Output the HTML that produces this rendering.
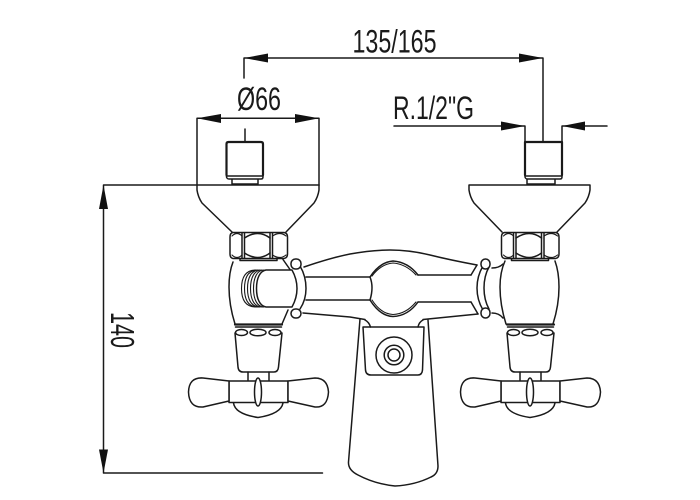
<!DOCTYPE html>
<html>
<head>
<meta charset="utf-8">
<style>
html,body{margin:0;padding:0;background:#fff;width:700px;height:500px;overflow:hidden}
svg{display:block}
text{font-family:"Liberation Sans",sans-serif;fill:#1a1a1a}
.l{fill:none;stroke:#1a1a1a;stroke-width:1.5;stroke-linejoin:round;stroke-linecap:round}
.k{fill:none;stroke:#1a1a1a;stroke-width:2.2;stroke-linejoin:round;stroke-linecap:round}
.w{fill:#fff;stroke:#1a1a1a;stroke-width:1.5;stroke-linejoin:round;stroke-linecap:round}
.t{fill:none;stroke:#1a1a1a;stroke-width:1.1;stroke-linecap:round}
.a{fill:#111;stroke:none}
</style>
</head>
<body>
<svg width="700" height="500" viewBox="0 0 700 500" xmlns="http://www.w3.org/2000/svg">
<defs>
<g id="nut">
  <path class="w" d="M233 232.500H284Q287.500 233 287.500 237V254Q287.500 258 284 258.500H233Q230 258 230 254V237Q230 233 233 232.500Z"/>
  <path class="l" d="M242 233V258M244.500 233V258M270 233V258M272.500 233V258"/>
  <path class="l" d="M244.500 238Q258 229 270 238M244.500 253Q258 262 270 253"/>
  <path class="t" d="M232 236Q237 231 242 236M272.500 236Q280 231 286 236M232 255Q237 260 242 255M272.500 255Q280 260 286 255"/>
  <path class="l" d="M240 258.500V260.500H277V258.500"/>
</g>
<g id="lower">
  <path class="k" d="M235 324.500H282"/>
  <path class="l" d="M235.500 327H281.500"/>
  <path class="l" d="M235 333L238 367Q238.500 372 243 372H274Q278 372 278.500 367L282 333"/>
  <ellipse class="w" cx="241.500" cy="332.500" rx="6" ry="3"/>
  <ellipse class="w" cx="258" cy="332.500" rx="8" ry="3.300"/>
  <ellipse class="w" cx="275" cy="332.500" rx="6" ry="3"/>
  <path class="l" d="M248 372V381M269 372V381"/>
  <path class="l" d="M233.500 403Q235 414 258 417.500Q281 414 283 403"/>
  <path class="w" d="M229 381H288V402.500H229Z"/>
  <path class="w" d="M229 381L203 378Q189 377 188.500 392Q189 408 203 407L229 401Z"/>
  <path class="w" d="M288 381L315 378Q327.500 378 328.500 392Q327.500 408 315 407L288 401Z"/>
  <ellipse class="w" cx="258" cy="392" rx="3.500" ry="14"/>
</g>
</defs>

<!-- dimensions -->
<path class="l" d="M103.500 185H319M103.500 185V473M103.500 473H322.500"/>
<path class="a" d="M103.500 185L99 209H108Z"/>
<path class="a" d="M103.500 473L99 449.500H108Z"/>

<path class="l" d="M244 78V58H543V142"/>
<path class="a" d="M244 58L268 53.500V62.500Z"/>
<path class="a" d="M543 58L519 53.500V62.500Z"/>

<path class="l" d="M197 185V118.300H319V185"/>
<path class="a" d="M197 118.300L221 114V123Z"/>
<path class="a" d="M319 118.300L295 114V123Z"/>

<path class="l" d="M245 129V142"/>
<path class="l" d="M394 126H525V142M607 126H562V142"/>
<path class="a" d="M525 126L501 121.500V130.500Z"/>
<path class="a" d="M562 126L585 121.500V130.500Z"/>

<text x="352.500" y="52.500" font-size="32" textLength="84" lengthAdjust="spacingAndGlyphs">135/165</text>
<text x="237" y="110" font-size="32" textLength="44" lengthAdjust="spacingAndGlyphs">Ø66</text>
<text x="393" y="119" font-size="32" textLength="81" lengthAdjust="spacingAndGlyphs">R.1/2"G</text>
<text transform="translate(111 312) rotate(90)" font-size="33" textLength="36" lengthAdjust="spacingAndGlyphs">140</text>

<!-- top connectors -->
<path class="k" d="M226.500 175V144Q226.500 142 228.500 142H261Q263 142 263 144V175"/>
<path class="l" d="M226.500 175V177Q227 179 229 179H261Q263 179 263 177V175M227 176H263M232 179.500V184H258V179.500M234 184H256"/>
<path class="k" d="M525 175V142H562V175"/>
<path class="l" d="M525 175V177Q525.500 179 527.500 179H560Q562 179 562 177V175M525 176H562M527 179.500V184H555V179.500M529 184H553"/>

<!-- cups -->
<path class="l" d="M197 185V190Q198 197 202 203L232 232M319 185V190Q318 197 314 203L286 232"/>
<path class="l" d="M469 185H590M469 185V190Q470 197 474 203L502 232M590 185V190Q589 197 585 203L557 232"/>

<!-- centre base -->
<path class="l" d="M360 319L348.500 462Q348 470 358 475Q375 484 395 486Q415 485 431 477Q438 474 438 466L428 320"/>
<path class="w" d="M363 327L365.500 370Q366 375 371 375H418Q422 375 422.500 370L424 327Z"/>
<path class="l" d="M365 320Q369 322 370.500 327M423 320Q419 322 418 327"/>
<circle class="l" cx="394" cy="355" r="18"/>
<circle class="l" cx="394" cy="355" r="9.800"/>
<circle class="l" cx="394" cy="355" r="6"/>

<!-- mixer body -->
<path class="l" d="M304 267Q330 258 350 254Q372 250 390 250Q410 250 430 255Q450 260 477 265"/>
<path class="l" d="M303 313L350 317L365 319.500M423 319.500L478 314"/>
<path class="l" d="M306 277H370M306 300H370M418 275H471M418 302H471"/>
<path class="l" d="M370 277Q380 262 393 261Q408 262 418 275"/>
<path class="t" d="M372 276Q381 264 393 263Q406 264 416 275"/>
<path class="l" d="M370 300Q380 316 393 316.500Q408 316 418 302"/>
<path class="t" d="M372 300Q381 314 393 314.500Q406 314 416 302"/>
<path class="l" d="M370 277Q374 287 370 300"/>

<!-- left valve -->
<path class="l" d="M233 262Q229 272 229 287Q229 305 235 324M283 259.500L290 269.500M282 324L288 310"/>
<path class="t" d="M256 270C245 270 241.500 278 241.500 288.500C241.500 299 245 307 256 307"/>
<path class="t" d="M258 270C248 270 244.500 278 244.500 288.500C244.500 299 248 307 258 307"/>
<path class="t" d="M260 270C251 270 247.500 278 247.500 288.500C247.500 299 251 307 260 307"/>
<path class="t" d="M262 270C254 270 250.500 278 250.500 288.500C250.500 299 254 307 262 307"/>
<path class="t" d="M264 270C257 270 253.500 278 253.500 288.500C253.500 299 257 307 264 307"/>
<path class="w" d="M292 270H266C260 271 256.500 278 256.500 288.500C256.500 299 260 306 266 307H292Q297 298 297 288.500Q297 279 292 270Z"/>
<path class="l" d="M300 266Q306 276 306 288.500Q306 300 300 309"/>
<rect class="w" x="291" y="259" width="10" height="10" rx="4.500"/>
<rect class="w" x="291" y="309" width="10" height="9" rx="4.500"/>

<!-- right valve -->
<path class="l" d="M505 261Q500 272 500 287Q500 305 506 324M555 261Q559 272 559 287Q559 305 553 324"/>
<path class="l" d="M492 268Q499 268 503 264M492 313Q499 313 503 318"/>
<path class="l" d="M471 275L477 265M471 302L478 314"/>
<path class="l" d="M483 266Q477 276 477 288Q477 300 483 310"/>
<path class="l" d="M489 267Q484 276 484 288Q484 300 489 309"/>
<rect class="w" x="481" y="259" width="9" height="10" rx="4.500"/>
<rect class="w" x="481" y="308" width="9" height="10" rx="4.500"/>

<use href="#nut"/>
<use href="#nut" x="271.500"/>
<use href="#lower"/>
<use href="#lower" x="272"/>
</svg>
</body>
</html>
